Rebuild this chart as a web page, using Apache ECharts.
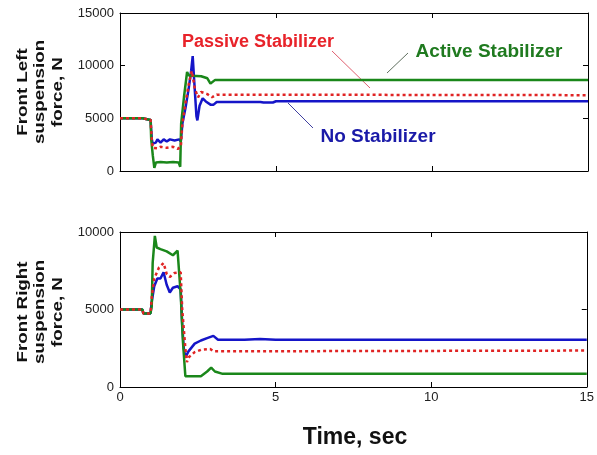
<!DOCTYPE html>
<html>
<head>
<meta charset="utf-8">
<script src="https://cdn.jsdelivr.net/npm/echarts@6/dist/echarts.min.js"></script>
<style>
  html, body { margin: 0; padding: 0; background: #fff; }
  #chart { width: 597px; height: 455px; }
</style>
</head>
<body>
<div id="chart"></div>
<script>
// Time axis ticks (sec) and force ticks (N)
const timeTicks = [0, 5, 10, 15];
const leftForceTicks = [0, 5000, 10000, 15000];
const rightForceTicks = [0, 5000, 10000];

// Front left suspension force, [time, N]
const leftNoStab = [[0,5000],[0.72,5000],[0.75,4850],[0.98,4850],[1.02,3000],[1.05,2600],[1.15,2700],[1.2,3000],[1.3,2700],[1.4,3000],[1.5,2800],[1.6,3000],[1.75,2900],[1.9,3000],[1.95,2800],[2.0,4500],[2.1,6000],[2.2,7800],[2.28,9500],[2.33,10900],[2.38,8500],[2.45,5200],[2.48,4800],[2.55,6200],[2.65,6900],[2.75,6600],[2.9,6300],[3.0,6300],[3.1,6550],[4.5,6550],[4.6,6500],[4.9,6500],[5.0,6620],[15,6620]];
const leftPassive = [[0,5000],[0.72,5000],[0.75,4850],[0.98,4850],[1.02,3000],[1.05,2200],[1.2,2150],[1.3,2300],[1.5,2200],[1.7,2300],[1.85,2100],[1.95,2300],[2.0,4500],[2.1,6500],[2.2,8200],[2.3,9500],[2.4,7800],[2.5,7000],[2.6,7500],[2.8,7300],[2.95,7000],[3.1,7250],[15,7200]];
const leftActive = [[0,5000],[0.72,5000],[0.75,4850],[0.98,4850],[1.0,3000],[1.05,1500],[1.1,300],[1.15,800],[1.3,850],[1.5,800],[1.7,850],[1.88,800],[1.93,400],[1.96,4500],[2.05,7000],[2.15,9400],[2.2,9100],[2.3,9050],[2.6,9000],[2.8,8800],[2.9,8300],[2.95,8150],[3.05,8650],[15,8650]];

// Front right suspension force, [time, N]
const rightNoStab = [[0,5000],[0.72,5000],[0.75,4750],[0.98,4750],[1.02,5500],[1.1,6500],[1.2,7000],[1.3,7000],[1.4,7400],[1.5,6600],[1.6,6100],[1.7,6400],[1.85,6500],[1.95,6300],[2.0,4000],[2.05,2500],[2.1,1900],[2.2,2300],[2.4,2800],[2.6,3000],[2.8,3150],[3.0,3300],[3.15,3050],[4.0,3050],[4.5,3100],[5,3050],[15,3050]];
const rightPassive = [[0,5000],[0.72,5000],[0.75,4750],[0.98,4750],[1.02,5800],[1.1,7000],[1.25,7700],[1.4,8000],[1.5,7300],[1.6,7100],[1.75,7350],[1.95,7400],[2.0,5000],[2.1,2500],[2.15,1600],[2.2,1900],[2.4,2250],[2.6,2400],[2.9,2450],[3.0,2300],[15,2350]];
const rightActive = [[0,5000],[0.72,5000],[0.75,4750],[0.98,4750],[1.02,5200],[1.05,8000],[1.12,9750],[1.18,9000],[1.3,8900],[1.5,8750],[1.7,8500],[1.85,8800],[1.9,8700],[1.95,6000],[2.02,3000],[2.1,700],[2.3,700],[2.6,700],[2.8,1000],[2.93,1250],[3.05,1000],[3.3,850],[15,850]];

const GREEN = "#1a871a";
const BLUE = "#1515c8";
const RED = "#e02424";
const FONT = "Liberation Sans";

const chart = echarts.init(document.getElementById("chart"));

function xAxes(gridIndex, showLabels) {
  const base = {
    type: "value", gridIndex: gridIndex,
    min: timeTicks[0], max: timeTicks[timeTicks.length - 1], interval: 5,
    axisLine: { show: true, onZero: false, lineStyle: { color: "#000", width: 1 } },
    axisTick: { show: true, inside: true, length: 5, lineStyle: { color: "#000" } },
    splitLine: { show: false }
  };
  return [
    Object.assign({}, base, {
      position: "bottom",
      axisLabel: { show: showLabels, color: "#222", fontFamily: FONT, fontSize: 13, margin: 4 }
    }),
    Object.assign({}, base, { position: "top", axisLabel: { show: false } })
  ];
}

function yAxes(gridIndex, ticks) {
  const base = {
    type: "value", gridIndex: gridIndex,
    min: ticks[0], max: ticks[ticks.length - 1], interval: 5000,
    axisLine: { show: true, onZero: false, lineStyle: { color: "#000", width: 1 } },
    axisTick: { show: true, inside: true, length: 5, lineStyle: { color: "#000" } },
    splitLine: { show: false }
  };
  return [
    Object.assign({}, base, {
      position: "left",
      axisLabel: {
        color: "#222", fontFamily: FONT, fontSize: 13, margin: 6,
        formatter: function (v) { return String(v); }
      }
    }),
    Object.assign({}, base, { position: "right", axisLabel: { show: false } })
  ];
}

function line(data, color, xi, yi, dashed) {
  return {
    type: "line", data: data, xAxisIndex: xi, yAxisIndex: yi,
    symbol: "none", smooth: false, animation: false,
    lineStyle: { color: color, width: 2.5, type: dashed ? [3, 3] : "solid" },
    z: dashed ? 3 : 2
  };
}

const option = {
  animation: false,
  backgroundColor: "#fff",
  grid: [
    { left: 120, top: 13, width: 468, height: 158 },
    { left: 120, top: 232, width: 468, height: 155 }
  ],
  xAxis: xAxes(0, false).concat(xAxes(1, true)),
  yAxis: yAxes(0, leftForceTicks).concat(yAxes(1, rightForceTicks)),
  series: [
    line(leftNoStab, BLUE, 0, 0, false),
    line(leftPassive, RED, 0, 0, true),
    line(leftActive, GREEN, 0, 0, false),
    line(rightNoStab, BLUE, 2, 2, false),
    line(rightPassive, RED, 2, 2, true),
    line(rightActive, GREEN, 2, 2, false)
  ],
  graphic: [
    // y axis titles
    {
      type: "text", x: 40, y: 92, rotation: Math.PI / 2, scaleX: 1.25,
      style: { text: "Front Left\nsuspension\nforce, N", fontFamily: FONT, fontWeight: "bold",
        fontSize: 15, lineHeight: 17.5, fill: "#111", align: "center", verticalAlign: "middle" }
    },
    {
      type: "text", x: 40, y: 312, rotation: Math.PI / 2, scaleX: 1.25,
      style: { text: "Front Right\nsuspension\nforce, N", fontFamily: FONT, fontWeight: "bold",
        fontSize: 15, lineHeight: 17.5, fill: "#111", align: "center", verticalAlign: "middle" }
    },
    // x axis title
    {
      type: "text", x: 355, y: 438,
      style: { text: "Time, sec", fontFamily: FONT, fontWeight: "bold", fontSize: 23,
        fill: "#111", align: "center", verticalAlign: "middle" }
    },
    // annotations
    {
      type: "text", x: 258, y: 42,
      style: { text: "Passive Stabilizer", fontFamily: FONT, fontWeight: "bold", fontSize: 18,
        fill: "#e8232a", align: "center", verticalAlign: "middle" }
    },
    {
      type: "text", x: 489, y: 52,
      style: { text: "Active Stabilizer", fontFamily: FONT, fontWeight: "bold", fontSize: 19,
        fill: "#1f7a1f", align: "center", verticalAlign: "middle" }
    },
    {
      type: "text", x: 378, y: 137,
      style: { text: "No Stabilizer", fontFamily: FONT, fontWeight: "bold", fontSize: 19,
        fill: "#1a1aa8", align: "center", verticalAlign: "middle" }
    },
    { type: "line", shape: { x1: 332, y1: 51, x2: 370, y2: 88 }, style: { stroke: "#e06070", lineWidth: 1 } },
    { type: "line", shape: { x1: 408, y1: 53, x2: 387, y2: 73 }, style: { stroke: "#607060", lineWidth: 1 } },
    { type: "line", shape: { x1: 313, y1: 128, x2: 288, y2: 103 }, style: { stroke: "#4040a0", lineWidth: 1 } }
  ]
};

chart.setOption(option);
window.addEventListener("resize", function () {
  chart.resize();
});
</script>
</body>
</html>
